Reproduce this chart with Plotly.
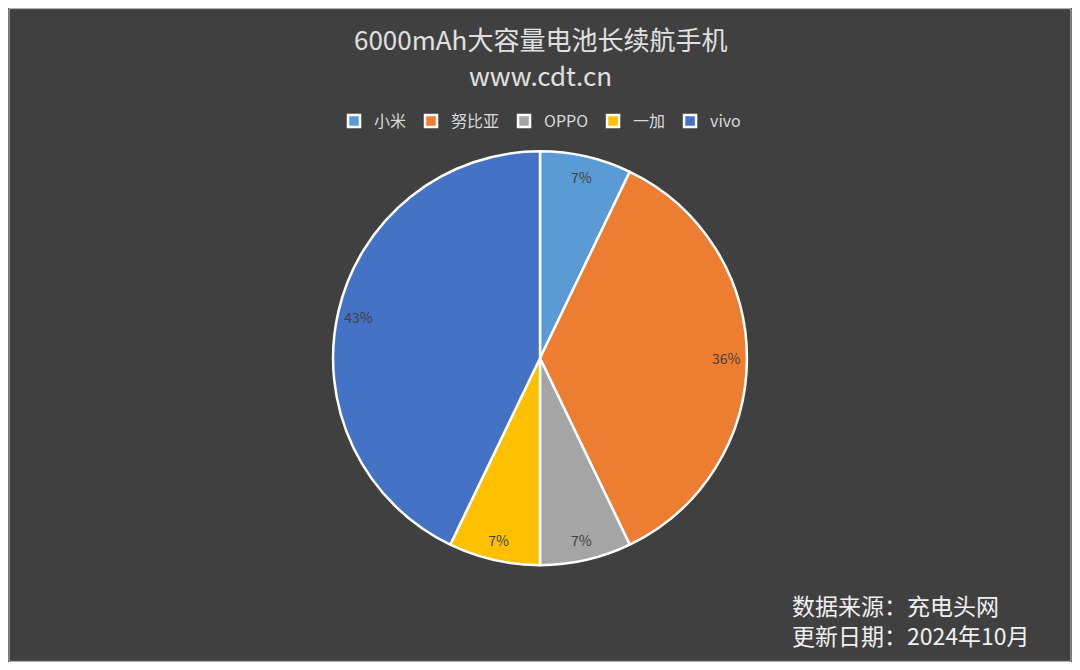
import plotly.graph_objects as go

brands = ["小米", "努比亚", "OPPO", "一加", "vivo"]
phone_counts = [1, 5, 1, 1, 6]
slice_colors = ["#5B9BD5", "#ED7D31", "#A5A5A5", "#FFC000", "#4472C4"]

font_family = "Noto Sans CJK SC"
pie_domain = dict(x=[0.3055, 0.6945], y=[0.148, 0.781])

fig = go.Figure()

# coloured slices
fig.add_trace(go.Pie(
    labels=brands, values=phone_counts, sort=False, direction="clockwise", rotation=0,
    marker=dict(colors=slice_colors, line=dict(color="white", width=2.5)),
    textinfo="none", domain=pie_domain,
))

# transparent ring on top to push percent labels out toward the rim
fig.add_trace(go.Pie(
    labels=brands, values=phone_counts, sort=False, direction="clockwise", rotation=0,
    hole=0.8, showlegend=False,
    marker=dict(colors=["rgba(0,0,0,0)"] * len(brands), line=dict(width=0)),
    texttemplate="%{percent:.0%}", textposition="inside", insidetextorientation="horizontal",
    textfont=dict(color="#404040", size=14, family=font_family),
    domain=pie_domain,
))

fig.update_layout(
    width=1064, height=654,
    paper_bgcolor="#404040",
    plot_bgcolor="#404040",
    margin=dict(l=0, r=0, t=0, b=0),
    font=dict(family=font_family, color="#D9D9D9"),
    showlegend=True,
    legend=dict(
        orientation="h", x=0.5, xanchor="center", y=0.827, yanchor="middle",
        font=dict(size=16, color="#D9D9D9"), traceorder="normal",
    ),
    annotations=[
        dict(text="6000mAh大容量电池长续航手机", x=0.5, y=0.954, xref="paper", yref="paper",
             yanchor="middle", showarrow=False, font=dict(size=26, color="#E0E0E0")),
        dict(text="www.cdt.cn", x=0.5, y=0.898, xref="paper", yref="paper",
             yanchor="middle", showarrow=False, font=dict(size=26, color="#E0E0E0")),
        dict(text="数据来源：充电头网<br>更新日期：2024年10月", x=0.735, y=0.012, xref="paper", yref="paper",
             xanchor="left", yanchor="bottom", align="left", showarrow=False,
             font=dict(size=23, color="#F0F0F0")),
    ],
    shapes=[dict(type="rect", xref="paper", yref="paper", x0=0.001, y0=0.001, x1=0.999, y1=0.999,
                 line=dict(color="#BFBFBF", width=1))],
)

fig.write_html("out.html")
